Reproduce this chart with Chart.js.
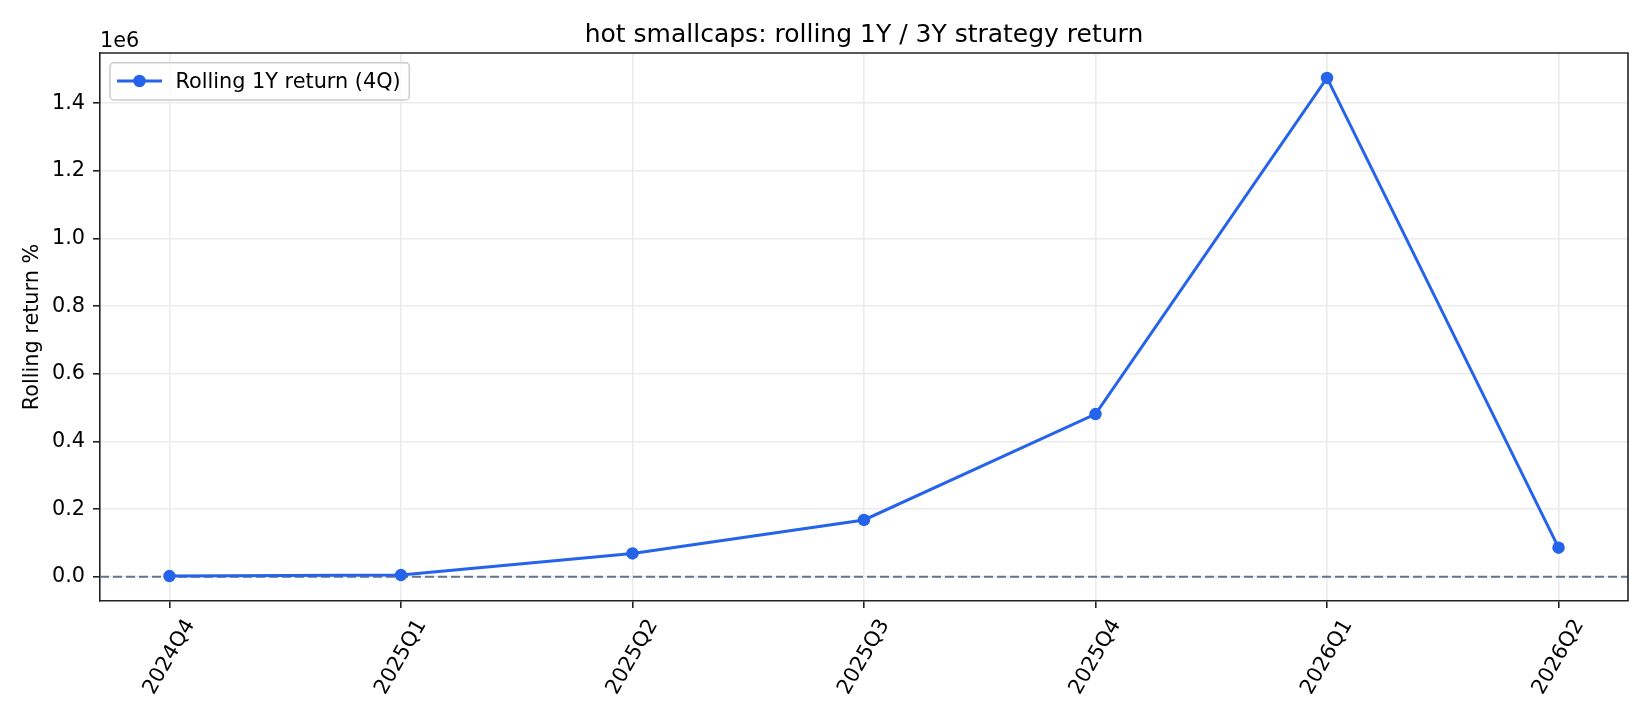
<!DOCTYPE html>
<html>
<head>
<meta charset="utf-8">
<script src="https://cdn.jsdelivr.net/npm/chart.js@4/dist/chart.umd.min.js"></script>
<style>
  html, body { margin: 0; padding: 0; background: #fff; }
  canvas { display: block; }
</style>
</head>
<body>
<canvas id="rollChart" width="1650" height="720"></canvas>
<script>
// quarters on the x axis
var quarters = ["2024Q4", "2025Q1", "2025Q2", "2025Q3", "2025Q4", "2026Q1", "2026Q2"];
// rolling 1Y return (%)
var rolling1Y = [2000, 5000, 69000, 168000, 481000, 1475000, 86000];
// y ticks (shown scaled by 1e6)
var yTicks = [0, 200000, 400000, 600000, 800000, 1000000, 1200000, 1400000];

var FONT = "'DejaVu Sans', 'Liberation Sans', sans-serif";
var BLUE = "#2563eb";
var INK = "#222222";

// matplotlib-ish extras: spines, title, ylabel, offset text, x labels, legend, zero line
var mplDecor = {
  id: "mplDecor",
  beforeDraw: function (chart) {
    var c = chart.ctx;
    c.save();
    c.fillStyle = "#ffffff";
    c.fillRect(0, 0, chart.width, chart.height);
    c.restore();
  },
  beforeDatasetsDraw: function (chart) {
    var c = chart.ctx, a = chart.chartArea;
    var y0 = chart.scales.y.getPixelForValue(0);
    c.save();
    c.strokeStyle = "#64748b";
    c.lineWidth = 2;
    c.setLineDash([9, 4]);
    c.beginPath();
    c.moveTo(a.left, y0);
    c.lineTo(a.right, y0);
    c.stroke();
    c.restore();
  },
  afterDraw: function (chart) {
    var c = chart.ctx, a = chart.chartArea, xs = chart.scales.x;
    c.save();

    // top + right spines
    c.strokeStyle = INK;
    c.lineWidth = 1.6;
    c.beginPath();
    c.moveTo(a.left, a.top);
    c.lineTo(a.right, a.top);
    c.lineTo(a.right, a.bottom);
    c.stroke();

    // title
    c.fillStyle = "#000";
    c.font = "25px " + FONT;
    c.textAlign = "center";
    c.textBaseline = "alphabetic";
    c.fillText("hot smallcaps: rolling 1Y / 3Y strategy return", (a.left + a.right) / 2, 42);

    // offset text
    c.font = "20.8px " + FONT;
    c.textAlign = "left";
    c.fillText("1e6", a.left, 47);

    // y label
    c.save();
    c.translate(37.5, (a.top + a.bottom) / 2);
    c.rotate(-Math.PI / 2);
    c.textAlign = "center";
    c.fillText("Rolling return %", 0, 0);
    c.restore();

    // rotated x tick labels, centred under the tick
    quarters.forEach(function (q, i) {
      c.save();
      c.translate(xs.getPixelForValue(i), 657);
      c.rotate(-Math.PI / 3);
      c.textAlign = "center";
      c.textBaseline = "middle";
      c.fillText(q, 0, 0);
      c.restore();
    });

    // legend
    var bx = 110, by = 62.7, bw = 299.3, bh = 37.3;
    c.fillStyle = "rgba(255,255,255,0.8)";
    c.strokeStyle = "#cccccc";
    c.lineWidth = 1.5;
    c.beginPath();
    c.roundRect(bx, by, bw, bh, 4);
    c.fill();
    c.stroke();
    c.strokeStyle = BLUE;
    c.lineWidth = 3;
    c.beginPath();
    c.moveTo(117, 81);
    c.lineTo(162, 81);
    c.stroke();
    c.fillStyle = BLUE;
    c.beginPath();
    c.arc(139.5, 81, 6.25, 0, Math.PI * 2);
    c.fill();
    c.fillStyle = "#000";
    c.textAlign = "left";
    c.textBaseline = "alphabetic";
    c.fillText("Rolling 1Y return (4Q)", 175.5, 88);

    c.restore();
  }
};

var ctx = document.getElementById("rollChart").getContext("2d");

var rollChart = new Chart(ctx, {
  type: "line",
  data: {
    datasets: [
      {
        label: "Rolling 1Y return (4Q)",
        data: rolling1Y.map(function (v, i) { return { x: i, y: v }; }),
        borderColor: BLUE,
        backgroundColor: BLUE,
        borderWidth: 3,
        tension: 0,
        pointRadius: 6.25,
        pointBorderWidth: 0,
        pointBackgroundColor: BLUE,
        clip: false,
      },
    ],
  },
  options: {
    responsive: false,
    animation: false,
    devicePixelRatio: 1,
    layout: {
      padding: { left: 0, right: 22, top: 53, bottom: 0 },
    },
    scales: {
      x: {
        type: "linear",
        min: -0.3,
        max: 6.3,
        afterBuildTicks: function (scale) {
          scale.ticks = quarters.map(function (q, i) { return { value: i }; });
        },
        afterFit: function (scale) {
          scale.height = 119;
        },
        ticks: { display: false },
        grid: {
          color: "#ebebeb",
          lineWidth: 1.6,
          tickColor: INK,
          tickWidth: 1.6,
          tickLength: 7,
        },
        border: { display: true, color: INK, width: 1.6 },
      },
      y: {
        min: -71700,
        max: 1548700,
        afterBuildTicks: function (scale) {
          scale.ticks = yTicks.map(function (v) { return { value: v }; });
        },
        afterFit: function (scale) {
          scale.width = 100;
        },
        ticks: {
          padding: 8,
          color: "#000",
          font: { family: FONT, size: 20.8 },
          callback: function (v) { return (v / 1e6).toFixed(1); },
        },
        grid: {
          color: "#ebebeb",
          lineWidth: 1.6,
          tickColor: INK,
          tickWidth: 1.6,
          tickLength: 7,
        },
        border: { display: true, color: INK, width: 1.6 },
      },
    },
    plugins: {
      legend: { display: false },
      tooltip: { enabled: false },
      title: { display: false },
    },
  },
  plugins: [mplDecor],
});
</script>
</body>
</html>
